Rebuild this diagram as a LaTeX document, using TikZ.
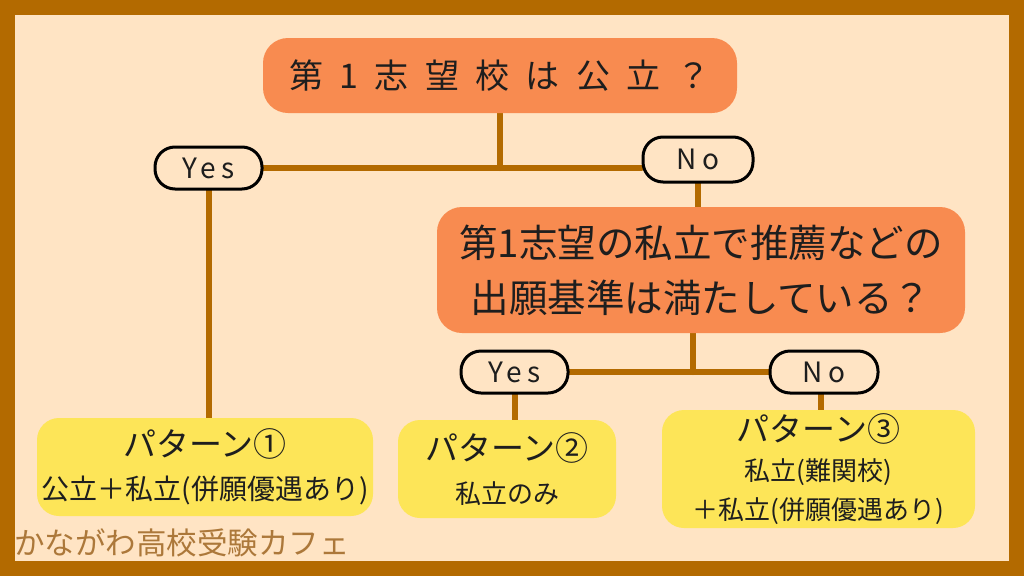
\documentclass[tikz,border=0pt]{standalone}
\usepackage{fontspec}
\setmainfont{Noto Sans CJK JP}
\newfontfamily\titlefont[LetterSpace=48]{Noto Sans CJK JP}
\newfontfamily\ynfont[LetterSpace=18]{Noto Sans CJK JP}
\usetikzlibrary{backgrounds}

\definecolor{frame}{RGB}{179,106,0}
\definecolor{paper}{RGB}{255,228,196}
\definecolor{qorange}{RGB}{248,139,80}
\definecolor{pyellow}{RGB}{253,229,88}
\definecolor{brandink}{RGB}{172,120,58}
\definecolor{ink}{RGB}{30,30,30}

\tikzset{
  qbox/.style={fill=qorange, rounded corners=25pt, text=ink, align=center, inner sep=0pt},
  ansoval/.style={draw=black, line width=3pt, fill=paper, rounded corners=20pt,
    minimum width=107pt, minimum height=42pt, inner sep=0pt, text=ink,
    font=\ynfont\fontsize{28}{28}\selectfont},
  patbox/.style={fill=pyellow, rounded corners=22pt, align=center, inner sep=0pt, text=ink},
  link/.style={draw=frame, line width=6pt, line cap=round},
}

\begin{document}
\begin{tikzpicture}[x=1pt,y=-1pt]
  % questions
  \node[qbox, minimum width=474, minimum height=75,
    font=\titlefont\fontsize{34}{34}\selectfont] (q1) at (500,75.5) {第1志望校は公立？};
  \node[qbox, minimum width=528, minimum height=126,
    font=\fontsize{38.5}{55}\selectfont] (q2) at (701,270)
    {第1志望の私立で推薦などの\\出願基準は満たしている？};
  % answers
  \node[ansoval] (yesA) at (208.5,168) {Yes};
  \node[ansoval, minimum width=110, minimum height=45] (noA) at (698,159.5) {No};
  \node[ansoval] (yesB) at (514.5,372) {Yes};
  \node[ansoval, minimum width=108] (noB) at (824,372) {No};
  % patterns
  \node[patbox, minimum width=336, minimum height=98,
    font=\fontsize{28}{43}\selectfont] (pA) at (205,467)
    {{\fontsize{33}{43}\selectfont パターン①}\\公立＋私立(併願優遇あり)};
  \node[patbox, minimum width=218, minimum height=98,
    font=\fontsize{26}{43}\selectfont] (pB) at (507,469)
    {{\fontsize{33}{43}\selectfont パターン②}\\私立のみ};
  \node[patbox, minimum width=313, minimum height=118,
    font=\fontsize{26}{39}\selectfont] (pC) at (818.5,469)
    {{\fontsize{33}{39}\selectfont パターン③}\\私立(難関校)\\＋私立(併願優遇あり)};
  \node[anchor=west, inner sep=0pt, text=brandink,
    font=\fontsize{30.5}{30.5}\selectfont] (brand) at (14,543) {かながわ高校受験カフェ};

  \begin{scope}[on background layer]
    \fill[frame] (0,0) rectangle (1024,576);
    \fill[paper] (15,15) rectangle (1009,561);
    \draw[link] (q1.south) -- (q1.south |- yesA.east);
    \draw[link] (yesA.east) -- (yesA.east -| noA.west);
    \draw[link] (yesA.south) -- (yesA.south |- pA.north);
    \draw[link] (noA.south) -- (noA.south |- q2.north);
    \draw[link] ([xshift=-8pt]q2.south) -- ([xshift=-8pt]q2.south |- yesB.east);
    \draw[link] (yesB.east) -- (noB.west);
    \draw[link] (yesB.south) -- (yesB.south |- pB.north);
    \draw[link] ([xshift=-3pt]noB.south) -- ([xshift=-3pt]noB.south |- pC.north);
  \end{scope}
\end{tikzpicture}
\end{document}
